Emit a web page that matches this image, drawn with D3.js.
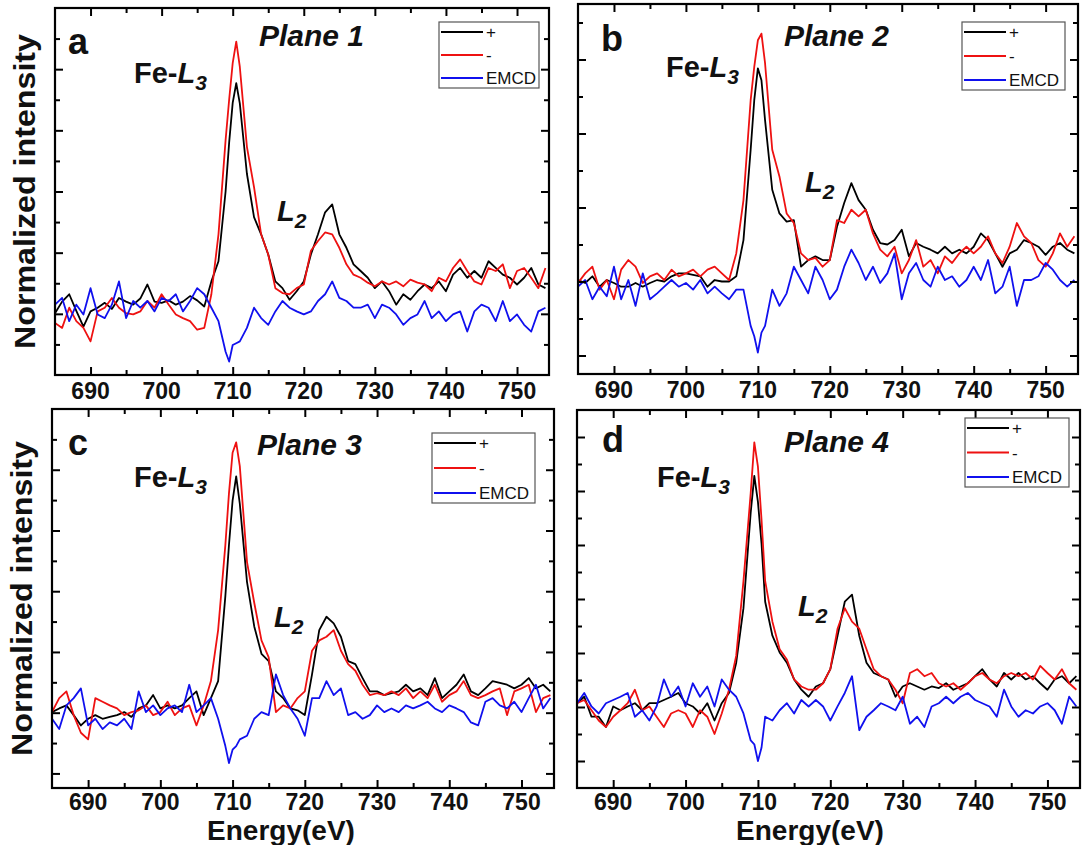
<!DOCTYPE html>
<html><head><meta charset="utf-8">
<script src="https://cdn.jsdelivr.net/npm/d3@7/dist/d3.min.js"></script>
<style>body{margin:0;background:#fff}svg{display:block}</style>
</head><body>
<svg id="chart" width="1083" height="845"></svg>
<script>
// ---------------- DATA ----------------
const energies = [685,686,687,688,689,690,691,692,693,694,695,696,697,698,699,700,701,702,703,704,705,706,707,708,709,709.5,710,710.5,711,712,713,714,715,716,717,718,719,720,721,722,723,724,725,726,727,728,729,730,731,732,733,734,735,736,737,738,739,740,741,742,743,744,745,746,747,748,749,750,751,752,753,754];

const aPlus = [1.01,1.20,1.32,1.05,0.79,1.04,1.10,1.18,1.08,1.26,1.20,1.15,1.25,1.48,1.20,1.18,1.22,1.15,1.20,1.29,1.22,1.12,1.53,1.86,3.00,3.80,4.45,4.77,4.44,3.29,2.58,2.30,1.97,1.53,1.42,1.23,1.37,1.53,1.97,2.30,2.66,2.79,2.30,2.08,1.81,1.70,1.59,1.42,1.53,1.37,1.15,1.32,1.23,1.37,1.48,1.42,1.53,1.37,1.64,1.75,1.59,1.70,1.59,1.86,1.75,1.64,1.59,1.48,1.59,1.75,1.48,1.42];
const aMinus = [0.85,0.77,1.10,0.88,0.77,0.55,1.04,1.10,1.26,1.10,1.01,0.99,1.04,1.21,1.10,1.32,1.15,0.99,0.93,0.88,0.74,0.77,1.32,2.30,3.84,4.50,5.10,5.45,5.04,3.73,3.07,2.30,1.97,1.42,1.34,1.32,1.42,1.48,2.03,2.19,2.33,2.30,2.08,1.81,1.64,1.59,1.51,1.45,1.53,1.48,1.53,1.45,1.56,1.51,1.48,1.37,1.59,1.53,1.75,1.89,1.70,1.53,1.48,1.75,1.70,1.81,1.42,1.70,1.75,1.59,1.42,1.75];
const aEmcd = [1.15,1.26,0.88,1.15,0.99,1.42,0.99,0.93,1.15,1.53,0.93,1.21,1.10,1.21,1.04,1.26,1.21,1.32,1.04,1.21,1.42,1.32,1.10,0.88,0.38,0.22,0.49,0.52,0.55,0.77,1.10,0.93,0.82,1.04,1.21,1.10,1.04,0.99,1.04,1.21,1.32,1.53,1.26,1.21,1.10,1.10,1.15,0.93,1.15,1.10,0.99,0.82,0.93,0.99,1.21,0.93,1.04,0.88,0.99,1.04,0.71,1.04,1.15,1.10,0.88,1.21,0.88,0.99,0.82,0.71,1.04,1.10];

const bPlus = [1.02,0.98,1.07,0.93,1.02,0.98,0.93,0.93,0.98,0.93,0.98,1.02,1.00,1.07,1.11,1.11,1.09,1.07,0.93,1.02,1.00,1.00,1.07,1.56,2.78,3.45,3.88,3.72,3.18,2.24,1.92,1.81,1.83,1.20,1.29,1.34,1.29,1.29,1.74,2.06,2.33,2.10,1.97,1.70,1.52,1.50,1.56,1.70,1.34,1.52,1.47,1.43,1.38,1.47,1.38,1.43,1.38,1.47,1.65,1.56,1.38,1.20,1.38,1.43,1.56,1.52,1.47,1.36,1.47,1.52,1.43,1.38];
const bMinus = [0.98,1.11,1.20,0.89,1.02,0.76,1.16,1.29,1.20,0.98,1.07,1.11,1.02,1.16,1.07,1.11,1.16,1.07,1.16,1.20,1.11,1.02,1.38,2.10,3.45,3.90,4.26,4.35,3.95,2.78,2.42,1.92,1.79,1.38,1.29,1.32,1.20,1.29,1.83,1.79,1.97,1.88,1.97,1.65,1.43,1.34,1.47,1.11,1.29,1.56,1.20,1.29,1.11,1.34,1.25,1.38,1.47,1.38,1.47,1.61,1.38,1.25,1.47,1.79,1.61,1.52,1.29,1.20,1.38,1.65,1.47,1.61];
const bEmcd = [0.93,1.02,0.76,0.93,0.80,1.20,0.76,1.02,0.67,1.11,0.76,0.84,0.93,1.02,0.93,0.98,0.89,1.02,0.84,0.93,0.84,0.76,0.89,0.89,0.40,0.26,0.04,0.31,0.40,0.89,0.67,0.84,1.20,1.02,0.84,1.20,1.02,0.76,0.89,1.20,1.43,1.25,1.02,1.20,0.98,1.11,1.38,0.76,1.11,1.25,1.02,0.93,1.20,1.02,1.07,0.93,1.02,1.20,1.02,1.29,0.84,0.93,1.20,0.67,1.02,1.02,1.07,1.25,1.16,1.02,0.93,1.02];

const cPlus = [1.01,1.07,1.12,0.96,0.79,0.90,0.96,0.90,0.93,0.96,1.01,0.93,1.07,1.12,1.29,1.07,1.12,1.07,1.12,1.24,1.35,0.96,1.24,1.52,2.92,3.76,4.49,4.89,4.44,3.15,2.42,1.97,1.85,1.35,1.24,1.07,1.04,0.96,1.63,2.36,2.58,2.47,2.25,1.85,1.80,1.57,1.35,1.35,1.29,1.32,1.35,1.46,1.35,1.40,1.29,1.57,1.24,1.35,1.46,1.63,1.35,1.29,1.40,1.52,1.49,1.46,1.40,1.46,1.57,1.40,1.46,1.35];
const cMinus = [1.01,1.24,1.35,0.96,0.67,0.56,1.24,1.18,1.12,1.07,0.96,1.01,1.04,1.12,0.96,1.01,1.18,0.96,1.07,1.12,0.79,1.12,1.52,2.36,3.76,4.61,5.28,5.45,5.06,3.48,2.81,2.19,1.91,1.01,1.12,1.07,1.24,1.35,2.02,2.19,2.25,2.36,2.02,1.80,1.69,1.46,1.29,1.32,1.29,1.35,1.29,1.40,1.24,1.35,1.24,1.46,1.18,1.29,1.35,1.52,1.29,1.24,1.29,1.35,1.40,0.96,1.35,1.40,1.46,1.01,1.24,1.29];
const cEmcd = [0.90,0.73,1.12,1.24,1.40,0.79,0.90,0.73,0.84,0.79,0.90,0.73,1.35,1.01,1.12,0.96,1.07,1.12,1.01,1.46,1.01,1.12,1.24,0.90,0.45,0.17,0.39,0.45,0.56,0.62,0.90,1.01,0.96,1.63,1.29,1.07,0.90,0.62,1.24,1.24,1.52,1.29,1.40,0.96,1.01,0.90,0.96,1.12,1.01,1.07,1.01,1.12,1.07,1.12,1.18,1.07,1.01,1.12,1.07,1.01,0.84,0.79,1.18,1.24,1.12,1.07,1.18,1.01,1.24,1.46,1.07,1.24];

const dPlus = [1.07,1.19,0.82,0.82,0.63,1.01,0.94,1.01,1.07,0.94,1.07,1.07,1.13,1.19,1.26,1.07,1.01,0.88,1.07,0.75,1.07,1.26,1.82,2.83,4.60,5.28,4.80,4.02,2.95,2.32,2.01,1.82,1.51,1.32,1.19,1.38,1.44,1.70,2.32,2.95,3.08,2.32,1.82,1.63,1.57,1.51,1.19,1.38,1.44,1.38,1.32,1.38,1.35,1.44,1.32,1.38,1.44,1.57,1.70,1.51,1.38,1.63,1.51,1.63,1.51,1.57,1.44,1.32,1.51,1.57,1.44,1.57];
const dMinus = [1.07,1.13,0.94,0.75,0.63,0.82,0.94,1.07,1.32,0.94,1.01,0.82,0.63,0.88,0.94,0.88,0.63,0.94,0.82,0.50,0.88,1.32,1.95,3.33,4.96,5.90,5.45,4.46,3.33,2.58,2.07,1.88,1.51,1.38,1.32,1.32,1.44,1.70,2.45,2.83,2.58,2.45,2.07,1.70,1.57,1.51,1.32,1.07,1.63,1.70,1.57,1.63,1.44,1.38,1.44,1.32,1.44,1.57,1.63,1.51,1.44,1.57,1.63,1.57,1.63,1.51,1.76,1.63,1.51,1.70,1.44,1.32];
const dEmcd = [1.07,1.26,1.01,0.88,1.07,1.13,1.19,1.26,0.82,0.94,0.75,1.01,1.51,1.19,1.38,1.01,1.44,1.19,1.38,1.01,1.51,1.32,1.19,0.88,0.38,0.31,0.00,0.25,0.82,0.75,0.94,1.07,0.88,1.13,1.01,1.13,1.01,0.75,1.01,1.26,1.57,0.57,0.82,0.94,1.07,1.01,0.94,1.19,0.69,0.82,0.63,1.01,1.07,1.19,1.07,1.19,1.26,1.13,1.07,1.01,0.82,1.32,1.01,0.82,0.94,0.88,1.01,1.07,0.94,0.69,1.19,1.01];

const xTicks = [690,700,710,720,730,740,750];
const xMinorTicks = [695,705,715,725,735,745];
const panelLetters = ["a","b","c","d"];
const planeTitles = ["Plane 1","Plane 2","Plane 3","Plane 4"];
const legendLabels = ["+","-","EMCD"];
const seriesColors = ["#000000","#ee1111","#1010ee"];
const yAxisTitle = "Normalized intensity";
const xAxisTitle = "Energy(eV)";

// ---------------- LAYOUT ----------------
const FONT = '"Liberation Sans", Arial, Helvetica, sans-serif';
const panels = [
  {series:[aPlus,aMinus,aEmcd], box:[55,8,549,375], ydom:[0,6], ymaj:[1,5], tl:24,
   letter:[68,54], title:[259,46], fe:[134,83], l2:[277,221], legend:[439,22,100,66], ylab:true, xlab:null},
  {series:[bPlus,bMinus,bEmcd], box:[578,4,1078,374], ydom:[-0.25,4.75], ymaj:[0,4], tl:24,
   letter:[601,51], title:[784,46], fe:[666,77], l2:[805,192], legend:[962,22,103,68], ylab:false, xlab:null},
  {series:[cPlus,cMinus,cEmcd], box:[52,409,554,788], ydom:[-0.24,6.0], ymaj:[0,5], tl:22,
   letter:[68,455], title:[257,455], fe:[134,487], l2:[274,627], legend:[432,433,103,70], ylab:true, xlab:281},
  {series:[dPlus,dMinus,dEmcd], box:[577,410,1080,788], ydom:[-0.5,6.5], ymaj:[0,6], tl:22,
   letter:[602,452], title:[784,452], fe:[657,487], l2:[798,616], legend:[965,418,104,69], ylab:false, xlab:810}
];

const svg = d3.select("#chart");
svg.append("rect").attr("width",1083).attr("height",845).attr("fill","#fff");

panels.forEach((p, pi) => {
  const [x0,y0,x1,y1] = p.box;
  const x = d3.scaleLinear().domain([685,754.5]).range([x0,x1]);
  const y = d3.scaleLinear().domain(p.ydom).range([y1,y0]);
  const g = svg.append("g");
  const clipId = "clip"+pi;
  svg.append("clipPath").attr("id",clipId).append("rect")
    .attr("x",x0).attr("y",y0).attr("width",x1-x0).attr("height",y1-y0);

  const line = d3.line().x((d,i)=>x(energies[i])).y(d=>y(d));
  const lg = g.append("g").attr("clip-path",`url(#${clipId})`);
  p.series.forEach((s,si)=>{
    lg.append("path").datum(s).attr("d",line).attr("fill","none")
      .attr("stroke",seriesColors[si]).attr("stroke-width",1.8).attr("stroke-linejoin","round");
  });

  // axes (inward ticks)
  const yMajor = d3.range(p.ymaj[0], p.ymaj[1]+0.001, 1);
  const yMinor = d3.range(p.ymaj[0]+0.5, p.ydom[1], 1).concat(d3.range(p.ymaj[0]-0.5, p.ydom[0], -1)).filter(v=>v>p.ydom[0]+0.05 && v<p.ydom[1]-0.05);
  const styleAxis = sel => {
    sel.select(".domain").remove();
    sel.selectAll("line").attr("stroke","#000").attr("stroke-width",2);
    sel.selectAll("text").remove();
  };
  g.append("g").attr("transform",`translate(0,${y1})`).call(d3.axisBottom(x).tickValues(xTicks).tickSize(-8)).call(styleAxis);
  g.append("g").attr("transform",`translate(0,${y1})`).call(d3.axisBottom(x).tickValues(xMinorTicks).tickSize(-5)).call(styleAxis);
  g.append("g").attr("transform",`translate(0,${y0})`).call(d3.axisTop(x).tickValues(xTicks).tickSize(-8)).call(styleAxis);
  g.append("g").attr("transform",`translate(0,${y0})`).call(d3.axisTop(x).tickValues(xMinorTicks).tickSize(-5)).call(styleAxis);
  g.append("g").attr("transform",`translate(${x0},0)`).call(d3.axisLeft(y).tickValues(yMajor).tickSize(-8)).call(styleAxis);
  g.append("g").attr("transform",`translate(${x0},0)`).call(d3.axisLeft(y).tickValues(yMinor).tickSize(-5)).call(styleAxis);
  g.append("g").attr("transform",`translate(${x1},0)`).call(d3.axisRight(y).tickValues(yMajor).tickSize(-8)).call(styleAxis);
  g.append("g").attr("transform",`translate(${x1},0)`).call(d3.axisRight(y).tickValues(yMinor).tickSize(-5)).call(styleAxis);

  // tick labels
  g.selectAll(".xl").data(xTicks).enter().append("text")
    .attr("x",d=>x(d)).attr("y",y1+p.tl).attr("text-anchor","middle")
    .attr("font-family",FONT).attr("font-weight","bold").attr("font-size",23).attr("fill","#111").text(d=>d);

  // frame
  g.append("rect").attr("x",x0).attr("y",y0).attr("width",x1-x0).attr("height",y1-y0)
    .attr("fill","none").attr("stroke","#000").attr("stroke-width",2.2);

  // annotations
  g.append("text").attr("x",p.letter[0]).attr("y",p.letter[1]).attr("font-family",FONT)
    .attr("font-weight","bold").attr("font-size",36).attr("fill","#111").text(panelLetters[pi]);
  g.append("text").attr("x",p.title[0]).attr("y",p.title[1]).attr("font-family",FONT)
    .attr("font-weight","bold").attr("font-style","italic").attr("font-size",30).attr("fill","#111").text(planeTitles[pi]);
  const fe = g.append("text").attr("x",p.fe[0]).attr("y",p.fe[1]).attr("font-family",FONT)
    .attr("font-weight","bold").attr("font-size",29).attr("fill","#111");
  fe.append("tspan").text("Fe-");
  fe.append("tspan").attr("font-style","italic").text("L");
  fe.append("tspan").attr("font-style","italic").attr("font-size",21).attr("dy",7).text("3");
  const l2 = g.append("text").attr("x",p.l2[0]).attr("y",p.l2[1]).attr("font-family",FONT)
    .attr("font-weight","bold").attr("font-size",29).attr("font-style","italic").attr("fill","#111");
  l2.append("tspan").text("L");
  l2.append("tspan").attr("font-size",21).attr("dy",7).text("2");

  // legend
  const [lx,ly,lw,lh] = p.legend;
  const leg = g.append("g");
  leg.append("rect").attr("x",lx).attr("y",ly).attr("width",lw).attr("height",lh)
    .attr("fill","#fff").attr("stroke","#555").attr("stroke-width",1.2);
  legendLabels.forEach((lab,i)=>{
    const yy = ly + 10 + i*(lh-20)/2;
    leg.append("line").attr("x1",lx+2).attr("x2",lx+44).attr("y1",yy).attr("y2",yy)
      .attr("stroke",seriesColors[i]).attr("stroke-width",2);
    leg.append("text").attr("x",lx+47).attr("y",yy+6).attr("font-family",FONT)
      .attr("font-size",17).attr("fill","#111").text(lab);
  });

  if (p.ylab) {
    g.append("text").attr("transform",`translate(${x0-20},${(y0+y1)/2}) rotate(-90)`)
      .attr("text-anchor","middle").attr("font-family",FONT).attr("font-weight","bold")
      .attr("font-size",29).attr("textLength",315).attr("lengthAdjust","spacingAndGlyphs")
      .attr("fill","#111").text(yAxisTitle);
  }
  if (p.xlab !== null) {
    g.append("text").attr("x",p.xlab).attr("y",840).attr("text-anchor","middle")
      .attr("font-family",FONT).attr("font-weight","bold").attr("font-size",28).attr("fill","#111").text(xAxisTitle);
  }
});
</script>
</body></html>
